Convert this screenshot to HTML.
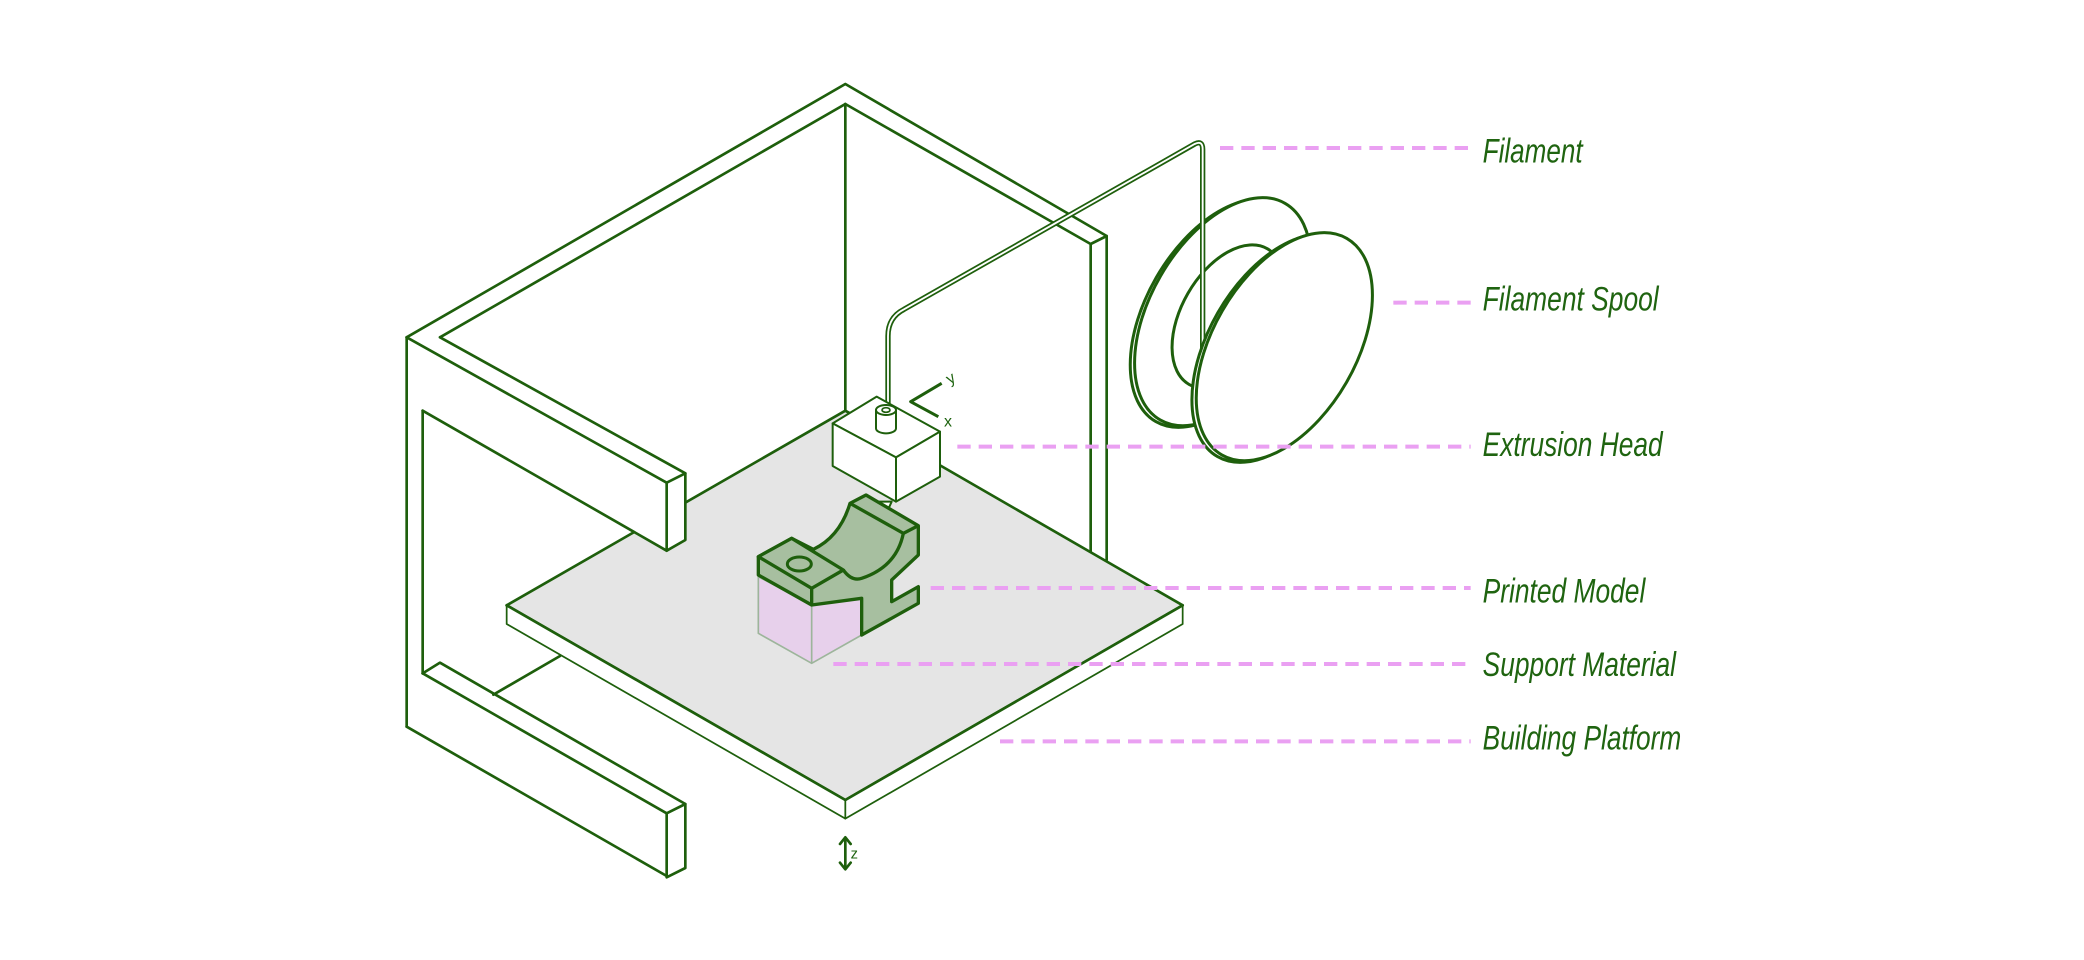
<!DOCTYPE html>
<html><head><meta charset="utf-8"><style>
html,body{margin:0;padding:0;background:#fff;}
svg{display:block;}
text{font-family:"Liberation Sans",sans-serif;font-style:italic;fill:#1f6410;}
</style></head><body>
<svg width="2084" height="960" viewBox="0 0 1563 720" xmlns="http://www.w3.org/2000/svg">
<g fill="none" stroke="#1e5f0c" stroke-width="2" stroke-linejoin="round" stroke-linecap="round">
<polyline points="305,253 634,63 830,177 830,420"/>
<polyline points="330,253 634,78 818,183 818,420"/>
<line x1="818" y1="183" x2="830" y2="177"/>
<line x1="634" y1="78" x2="634" y2="310"/>
<line x1="370" y1="521" x2="420" y2="492"/>
<polygon points="380,454 634,308 887,454 634,600" fill="#e5e5e5"/>
<polygon points="380,454 634,600 634,614 380,468" fill="#fff" stroke-width="1.3"/>
<polygon points="634,600 887,454 887,468 634,614" fill="#fff" stroke-width="1.3"/>
<line x1="380" y1="454" x2="634" y2="600"/>
<line x1="634" y1="600" x2="887" y2="454"/>
<polygon points="305,253 330,253 514,355 514,405 500,413 317,308" fill="#fff" stroke="none"/>
<line x1="305" y1="253" x2="500" y2="362"/>
<line x1="330" y1="253" x2="514" y2="355"/>
<polygon points="500,362 514,355 514,405 500,413" fill="#fff"/>
<line x1="317" y1="308" x2="500" y2="413"/>
<line x1="305" y1="253" x2="305" y2="545"/>
<line x1="317" y1="308" x2="317" y2="505"/>
<line x1="305" y1="545" x2="500" y2="657"/>
<line x1="317" y1="505" x2="500" y2="610"/>
<polyline points="317,505 330,497 514,603"/>
<polygon points="500,610 514,603 514,651 500,658" fill="#fff"/>
<line x1="634" y1="629" x2="634" y2="651"/>
<polyline points="630,633 634,628 638,633"/>
<polyline points="630,647 634,652 638,647"/>
</g>
<text x="638" y="644" font-size="11" style="font-style:normal">z</text>

<!-- spool back -->
<g transform="translate(825,135) scale(0.25)" stroke="#1e5f0c" stroke-width="9" fill="#fff">
<ellipse cx="355" cy="400" rx="215" ry="375" transform="rotate(30 355 400)"/>
<ellipse cx="368" cy="395" rx="215" ry="375" transform="rotate(30 368 395)"/>
<ellipse cx="385" cy="410" rx="140" ry="235" transform="rotate(30 385 410)"/>
</g>

<!-- filament tube -->
<path d="M666,306 L666,252 Q666,238 678,232 L896,108 Q902,105 902,112 L902,300" fill="none" stroke="#1e5f0c" stroke-width="4"/>
<path d="M666,306 L666,252 Q666,238 678,232 L896,108 Q902,105 902,112 L902,300" fill="none" stroke="#fff" stroke-width="1.4"/>

<!-- spool front -->
<g transform="translate(825,135) scale(0.25)" stroke="#1e5f0c" stroke-width="9" fill="#fff">
<ellipse cx="540" cy="505" rx="215" ry="375" transform="rotate(30 540 505)"/>
<ellipse cx="553" cy="500" rx="215" ry="375" transform="rotate(30 553 500)"/>
</g>

<g transform="translate(555,270) scale(0.25)" stroke="#1e5f0c" stroke-linejoin="round">
<polygon points="278,190 410,110 600,215 468,292" fill="#fff" stroke-width="6"/>
<polygon points="278,190 468,292 468,425 278,318" fill="#fff" stroke-width="6"/>
<polygon points="468,292 600,215 600,350 468,425" fill="#fff" stroke-width="6"/>
<path d="M408,150 L408,205 A30,15 0 0 0 468,205 L468,150" fill="#fff" stroke-width="6"/>
<ellipse cx="438" cy="150" rx="30" ry="15" fill="#fff" stroke-width="6"/>
<ellipse cx="438" cy="150" rx="12" ry="7" fill="none" stroke-width="5"/>
<path d="M415,425 L455,425 L440,458 L430,458 Z" fill="#fff" stroke-width="6"/>
<polyline points="605,70 512,125 595,170" fill="none" stroke-width="9"/>
<path d="M55,650 L55,820 L215,910 L365,825 L365,715 L215,735 Z" fill="#e7d0eb" stroke="#9db59b" stroke-width="5"/>
<line x1="215" y1="735" x2="215" y2="910" stroke="#9db59b" stroke-width="5"/>
<path d="M55,590 L155,535 L220,568 Q300,530 330,430 L378,405 L535,497 L535,585 L455,660 L455,725 L535,680 L535,730 L365,825 L365,715 L215,735 L55,645 Z" fill="#a7bfa0" stroke-width="10"/>
<polygon points="55,590 155,535 310,630 215,685" fill="#a7bfa0" stroke-width="10"/>
<line x1="215" y1="685" x2="215" y2="735" stroke-width="10"/>
<polyline points="330,430 490,520 535,497" fill="none" stroke-width="10"/>
<path d="M310,630 Q335,665 365,655 Q470,620 490,520" fill="none" stroke-width="10"/>
<ellipse cx="178" cy="612" rx="36" ry="21" fill="none" stroke-width="9"/>
</g>
<text x="710" y="286" font-size="12" transform="rotate(-30 716 283)" style="font-style:normal">y</text>
<text x="708" y="320" font-size="12" style="font-style:normal">x</text>

<g stroke="#eaa0f2" stroke-width="3" stroke-dasharray="10 6" fill="none">
<line x1="915" y1="111" x2="1103" y2="111"/>
<line x1="1045" y1="227" x2="1103" y2="227"/>
<line x1="718" y1="335" x2="1103" y2="335"/>
<line x1="698" y1="441" x2="1103" y2="441"/>
<line x1="625" y1="498" x2="1103" y2="498"/>
<line x1="750" y1="556" x2="1103" y2="556"/>
</g>
<g font-size="26">
<text x="1112" y="122" textLength="75" lengthAdjust="spacingAndGlyphs">Filament</text>
<text x="1112" y="233" textLength="132" lengthAdjust="spacingAndGlyphs">Filament Spool</text>
<text x="1112" y="342" textLength="135" lengthAdjust="spacingAndGlyphs">Extrusion Head</text>
<text x="1112" y="452" textLength="122" lengthAdjust="spacingAndGlyphs">Printed Model</text>
<text x="1112" y="507" textLength="145" lengthAdjust="spacingAndGlyphs">Support Material</text>
<text x="1112" y="562" textLength="149" lengthAdjust="spacingAndGlyphs">Building Platform</text>
</g>
</svg>
</body></html>
